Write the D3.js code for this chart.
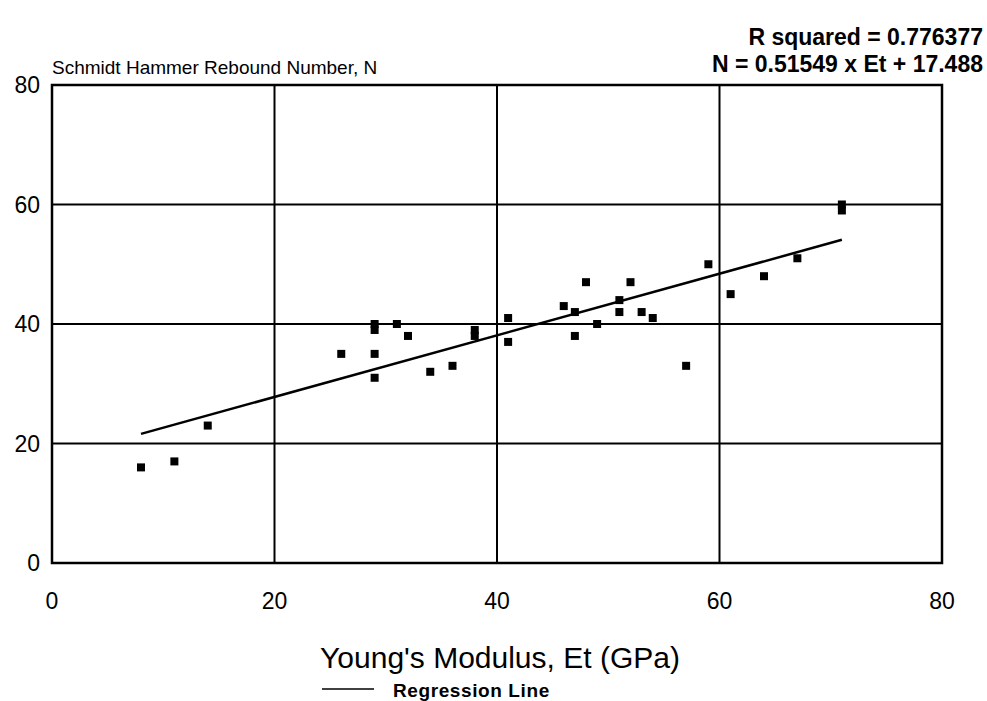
<!DOCTYPE html>
<html>
<head>
<meta charset="utf-8">
<script src="https://cdn.jsdelivr.net/npm/d3@7"></script>
<style>
  body { margin: 0; background: #fff; }
  text { font-family: "Liberation Sans", Arial, sans-serif; fill: #000; }
</style>
</head>
<body>
<div id="main"></div>
<script>
// data: Young's modulus (GPa) vs rebound number
var modulus = [8, 11, 14, 26, 29, 29, 29, 29, 31, 32, 34, 36, 38, 38, 41, 41,
               46, 47, 47, 48, 49, 51, 51, 52, 53, 54, 57, 59, 61, 64, 67, 71, 71];
var rebound = [16, 17, 23, 35, 40, 39, 35, 31, 40, 38, 32, 33, 39, 38, 41, 37,
               43, 42, 38, 47, 40, 44, 42, 47, 42, 41, 33, 50, 45, 48, 51, 60, 59];
var slope = 0.51549, intercept = 17.488;   // regression
var lineRange = [8, 71];
var xTicks = [0, 20, 40, 60, 80];
var yTicks = [0, 20, 40, 60, 80];

var width = 987, height = 701;
var svg = d3.select("#main").append("svg")
    .attr("width", width).attr("height", height);

var x = d3.scaleLinear().domain([0, 80]).range([52, 942]);
var y = d3.scaleLinear().domain([0, 80]).range([563, 85]);

// grid
svg.selectAll(".vg").data(xTicks.slice(1, -1)).enter().append("line")
    .attr("x1", function(d) { return x(d); }).attr("x2", function(d) { return x(d); })
    .attr("y1", y(0)).attr("y2", y(80))
    .attr("stroke", "#000").attr("stroke-width", 2);
svg.selectAll(".hg").data(yTicks.slice(1, -1)).enter().append("line")
    .attr("y1", function(d) { return y(d); }).attr("y2", function(d) { return y(d); })
    .attr("x1", x(0)).attr("x2", x(80))
    .attr("stroke", "#000").attr("stroke-width", 2);

// frame
svg.append("rect")
    .attr("x", x(0)).attr("y", y(80))
    .attr("width", x(80) - x(0)).attr("height", y(0) - y(80))
    .attr("fill", "none").attr("stroke", "#000").attr("stroke-width", 2.5);

// tick labels
svg.selectAll(".xt").data(xTicks).enter().append("text")
    .attr("x", function(d) { return x(d); }).attr("y", 609)
    .attr("text-anchor", "middle").style("font-size", "23px")
    .text(function(d) { return d; });
svg.selectAll(".yt").data(yTicks).enter().append("text")
    .attr("x", 40).attr("y", function(d) { return y(d) + 8; })
    .attr("text-anchor", "end").style("font-size", "23px")
    .text(function(d) { return d; });

// regression line
svg.append("line")
    .attr("x1", x(lineRange[0])).attr("y1", y(slope * lineRange[0] + intercept))
    .attr("x2", x(lineRange[1])).attr("y2", y(slope * lineRange[1] + intercept))
    .attr("stroke", "#000").attr("stroke-width", 2.5);

// points
var pts = modulus.map(function(d, i) { return {x: d, y: rebound[i]}; });
svg.selectAll(".pt").data(pts).enter().append("rect")
    .attr("x", function(d) { return x(d.x) - 4; })
    .attr("y", function(d) { return y(d.y) - 4; })
    .attr("width", 8).attr("height", 8)
    .attr("fill", "#000");

// titles
svg.append("text").attr("x", 52).attr("y", 74)
    .style("font-size", "19px").text("Schmidt Hammer Rebound Number, N");
svg.append("text").attr("x", 983).attr("y", 45)
    .attr("text-anchor", "end").style("font-size", "23px").style("font-weight", "bold")
    .text("R squared = 0.776377");
svg.append("text").attr("x", 983).attr("y", 72)
    .attr("text-anchor", "end").style("font-size", "23px").style("font-weight", "bold")
    .text("N = 0.51549 x Et + 17.488");

svg.append("text").attr("x", 500).attr("y", 668)
    .attr("text-anchor", "middle").style("font-size", "30px")
    .text("Young's Modulus, Et (GPa)");

// legend
svg.append("line").attr("x1", 322).attr("x2", 374).attr("y1", 689).attr("y2", 689)
    .attr("stroke", "#000").attr("stroke-width", 1.5);
svg.append("text").attr("x", 393).attr("y", 697)
    .style("font-size", "19px").style("font-weight", "bold")
    .style("letter-spacing", "0.6px")
    .text("Regression Line");
</script>
</body>
</html>
